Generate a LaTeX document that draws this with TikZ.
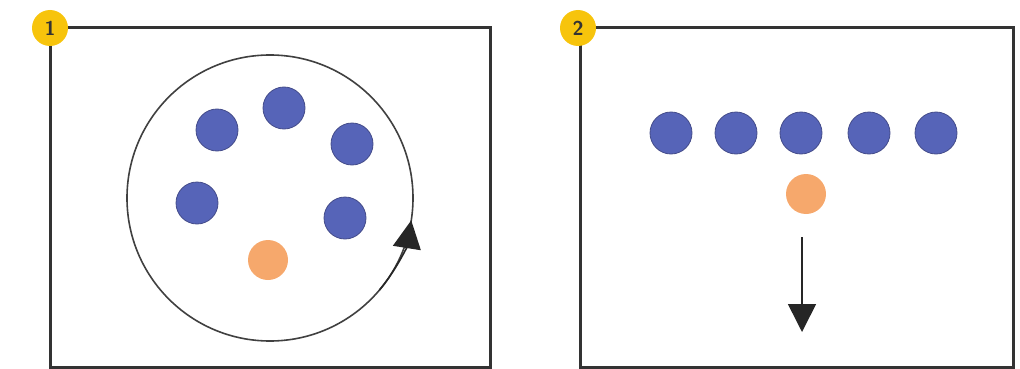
\documentclass[tikz,border=0pt]{standalone}
\usepackage{tikz}
\usetikzlibrary{arrows.meta,positioning}
\definecolor{azulbola}{RGB}{86,100,184}
\definecolor{azulborde}{RGB}{68,76,138}
\definecolor{naranja}{RGB}{246,168,108}
\definecolor{oro}{RGB}{247,196,12}
\tikzset{
  panel/.style={draw=black!80,line width=3pt},
  bolita/.style={circle,fill=azulbola,draw=azulborde,line width=0.8pt,minimum size=42pt,inner sep=0pt},
  guia/.style={circle,fill=naranja,minimum size=40pt,inner sep=0pt},
  marca/.style={circle,fill=oro,minimum size=36pt,inner sep=0pt,text=black!80,font=\sffamily\bfseries\fontsize{20}{20}\selectfont},
  flecha/.style={-{Triangle[length=28pt,width=28pt]},black!85,line width=1.6pt}
}

\begin{document}
\begin{tikzpicture}[x=1pt,y=-1pt]
\useasboundingbox (0,0) rectangle (1020,369);
% cuadro 1
\draw[panel] (50,28) rectangle (490,367);
\coordinate (centro) at (270,198);
\draw[black!75,line width=1.6pt] (centro) circle (143);
\draw[flecha] ([shift={(40:143)}]centro) arc (40:9:143);
\node[bolita] (a1) at (217,130) {};
\node[bolita] (a2) at (284,108) {};
\node[bolita] (a3) at (352,144) {};
\node[bolita] (a4) at (197,203) {};
\node[bolita] (a5) at (345,218) {};
\node[guia] (o1) at (268,260) {};
\node[marca] (m1) at (50,28) {1};
% cuadro 2
\draw[panel] (580,28) rectangle (1013,367);
\foreach \x [count=\i] in {671,736,801,869,936}{\node[bolita] (b\i) at (\x,133) {};}
\node[guia] (o2) at (806,194) {};
\coordinate (ini) at (802,237);
\coordinate (fin) at (802,332);
\draw[flecha] (ini) -- (fin);
\node[marca] (m2) at (578,28) {2};
\end{tikzpicture}
\end{document}
